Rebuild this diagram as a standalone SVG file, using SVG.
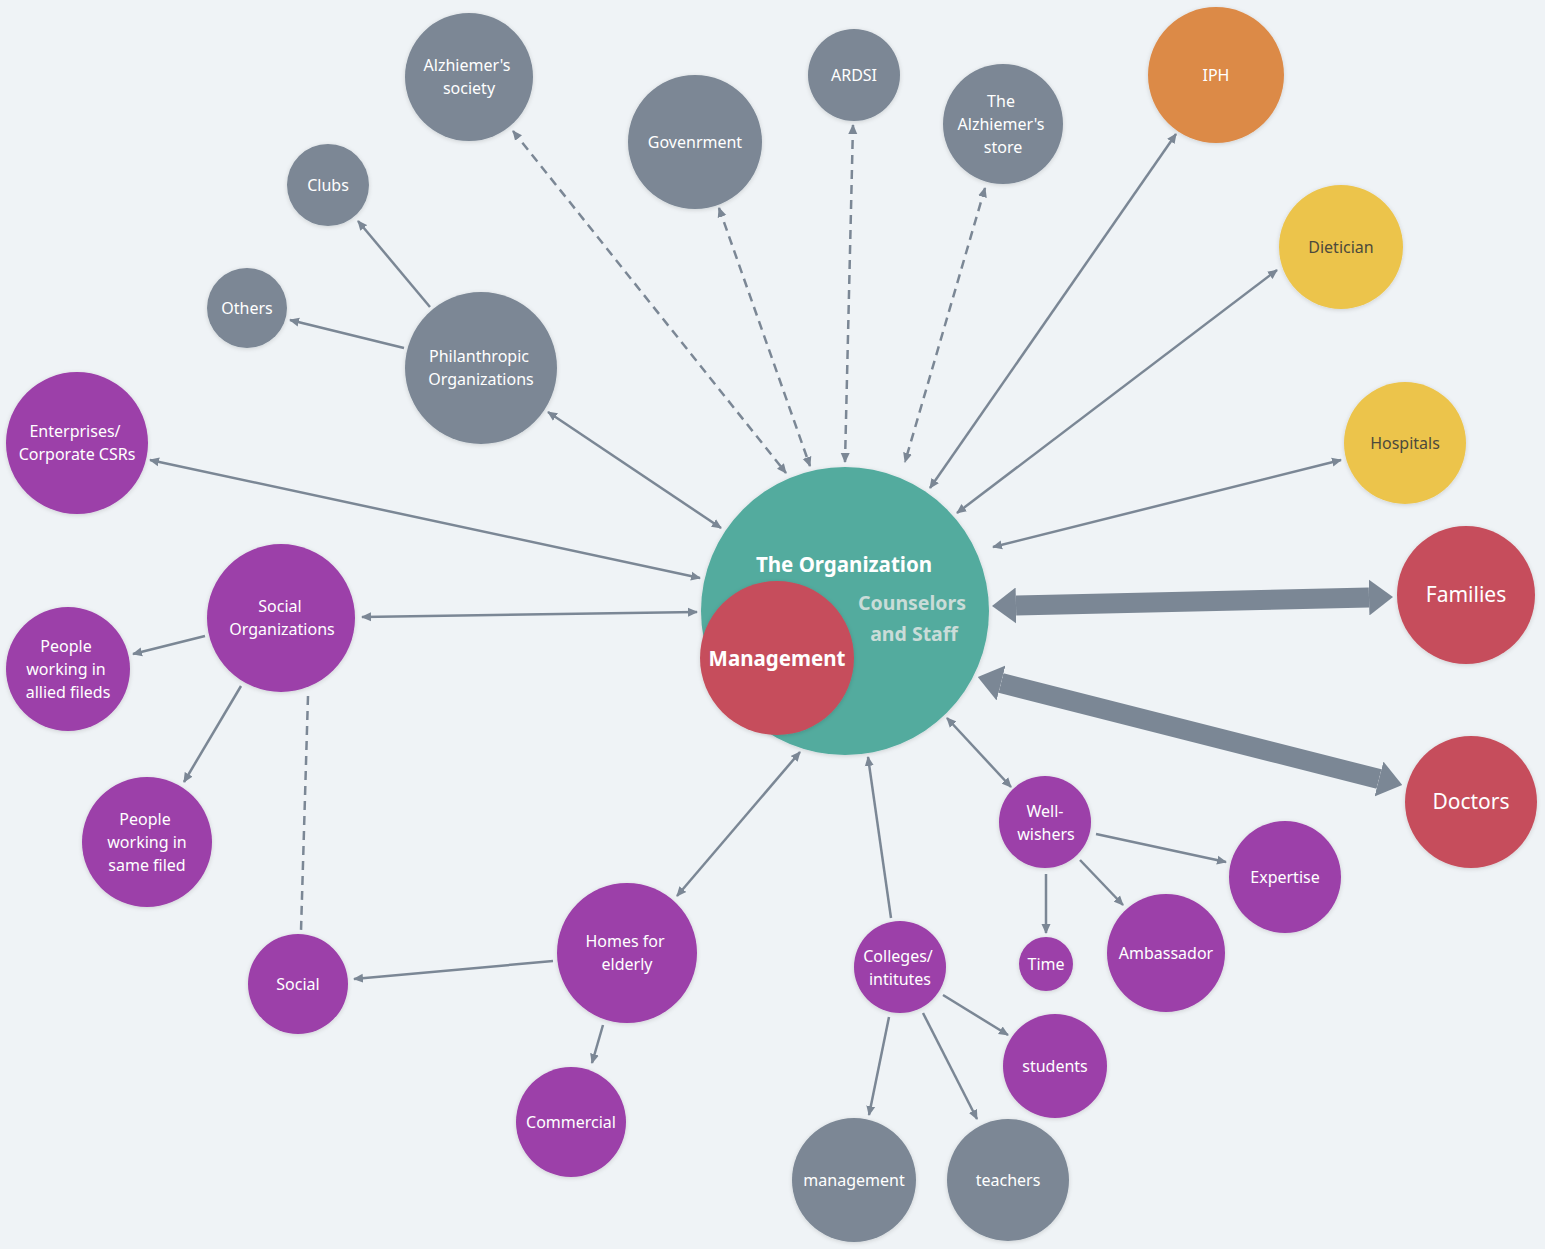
<svg xmlns="http://www.w3.org/2000/svg" width="1545" height="1249" viewBox="0 0 1545 1249">
<defs>
<style>
.bg{fill:#eff3f6}
.g{fill:#7b8795}
.p{fill:#9c3fa9}
.t{fill:#52ab9e}
.r{fill:#c64e5b}
.o{fill:#dc8a47}
.y{fill:#ecc44b}
text{font-family:"Noto Sans","DejaVu Sans",sans-serif;font-size:16px;fill:#ffffff;text-anchor:middle}
.dk{fill:#4c4a3c}
.big{font-size:21px}
.bold{font-weight:bold;font-size:20.5px}
.cs{fill:#c9dcd8;font-weight:bold;font-size:19.5px}
.ln{stroke:#7b8795;stroke-width:2.5;fill:none}
.ds{stroke-dasharray:9 6}
.thick{stroke:#7b8795;stroke-width:20;fill:none}
circle{filter:url(#sh)}
</style>
<filter id="sh" x="-20%" y="-20%" width="140%" height="140%">
<feDropShadow dx="0" dy="1" stdDeviation="2" flood-color="#000" flood-opacity="0.15"/>
</filter>
<marker id="a" markerUnits="userSpaceOnUse" markerWidth="10" markerHeight="10" viewBox="0 0 10 10" refX="9" refY="5" orient="auto-start-reverse">
<path d="M0,0.5 L10,5 L0,9.5 z" fill="#7b8795"/>
</marker>
<marker id="A" markerUnits="userSpaceOnUse" markerWidth="24" markerHeight="36" viewBox="0 0 24 36" refX="0" refY="18" orient="auto-start-reverse">
<path d="M0,0 L24,18 L0,36 z" fill="#7b8795"/>
</marker>
</defs>
<rect class="bg" x="0" y="0" width="1545" height="1249"/>

<g id="connectors">
<line class="ln ds" x1="513" y1="131" x2="786" y2="473" marker-start="url(#a)" marker-end="url(#a)"/>
<line class="ln ds" x1="719" y1="208" x2="810" y2="466" marker-start="url(#a)" marker-end="url(#a)"/>
<line class="ln ds" x1="853" y1="125" x2="845" y2="462" marker-start="url(#a)" marker-end="url(#a)"/>
<line class="ln ds" x1="985" y1="188" x2="905" y2="462" marker-start="url(#a)" marker-end="url(#a)"/>
<line class="ln" x1="1176" y1="134" x2="930" y2="488" marker-start="url(#a)" marker-end="url(#a)"/>
<line class="ln" x1="1277" y1="270" x2="957" y2="513" marker-start="url(#a)" marker-end="url(#a)"/>
<line class="ln" x1="1341" y1="460" x2="993" y2="547" marker-start="url(#a)" marker-end="url(#a)"/>
<line class="thick" x1="1016" y1="605.5" x2="1369" y2="597.5" marker-start="url(#A)" marker-end="url(#A)"/>
<line class="thick" x1="1001" y1="683" x2="1379" y2="779" marker-start="url(#A)" marker-end="url(#A)"/>
<line class="ln" x1="947" y1="718" x2="1011" y2="787" marker-start="url(#a)" marker-end="url(#a)"/>
<line class="ln" x1="891" y1="918" x2="868" y2="757" marker-end="url(#a)"/>
<line class="ln" x1="677" y1="896" x2="800" y2="752" marker-start="url(#a)" marker-end="url(#a)"/>
<line class="ln" x1="362" y1="617" x2="697" y2="612" marker-start="url(#a)" marker-end="url(#a)"/>
<line class="ln" x1="150" y1="460" x2="700" y2="578" marker-start="url(#a)" marker-end="url(#a)"/>
<line class="ln" x1="548" y1="412" x2="721" y2="528" marker-start="url(#a)" marker-end="url(#a)"/>
<line class="ln" x1="430" y1="307" x2="358" y2="221" marker-end="url(#a)"/>
<line class="ln" x1="404" y1="348" x2="290" y2="320" marker-end="url(#a)"/>
<line class="ln" x1="205" y1="636" x2="133" y2="654" marker-end="url(#a)"/>
<line class="ln" x1="241" y1="686" x2="184" y2="782" marker-end="url(#a)"/>
<line class="ln ds" x1="308" y1="696" x2="301" y2="931"/>
<line class="ln" x1="553" y1="961" x2="354" y2="979" marker-end="url(#a)"/>
<line class="ln" x1="603" y1="1025" x2="592" y2="1063" marker-end="url(#a)"/>
<line class="ln" x1="889" y1="1017" x2="869" y2="1115" marker-end="url(#a)"/>
<line class="ln" x1="923" y1="1013" x2="977" y2="1119" marker-end="url(#a)"/>
<line class="ln" x1="943" y1="995" x2="1008" y2="1035" marker-end="url(#a)"/>
<line class="ln" x1="1046" y1="874" x2="1046" y2="933" marker-end="url(#a)"/>
<line class="ln" x1="1080" y1="860" x2="1123" y2="905" marker-end="url(#a)"/>
<line class="ln" x1="1096" y1="834" x2="1226" y2="862" marker-end="url(#a)"/>
</g>

<g id="organization">
<circle class="t" cx="845" cy="611" r="144"/>
<text class="bold" x="844" y="572">The Organization</text>
<text class="cs" x="912" y="610">Counselors</text>
<text class="cs" x="914" y="641">and Staff</text>
</g>
<g id="management-core">
<circle class="r" cx="777" cy="658" r="77"/>
<text class="bold" x="777" y="666">Management</text>
</g>

<g id="alz-society"><circle class="g" cx="469" cy="77" r="64"/><text x="467" y="71">Alzhiemer's</text><text x="469" y="94">society</text></g>
<g id="government"><circle class="g" cx="695" cy="142" r="67"/><text x="695" y="148">Govenrment</text></g>
<g id="ardsi"><circle class="g" cx="854" cy="75" r="46"/><text x="854" y="81">ARDSI</text></g>
<g id="alz-store"><circle class="g" cx="1003" cy="124" r="60"/><text x="1001" y="107">The</text><text x="1001" y="130">Alzhiemer's</text><text x="1003" y="153">store</text></g>
<g id="iph"><circle class="o" cx="1216" cy="75" r="68"/><text x="1216" y="81">IPH</text></g>
<g id="dietician"><circle class="y" cx="1341" cy="247" r="62"/><text class="dk" x="1341" y="253">Dietician</text></g>
<g id="hospitals"><circle class="y" cx="1405" cy="443" r="61"/><text class="dk" x="1405" y="449">Hospitals</text></g>
<g id="families"><circle class="r" cx="1466" cy="595" r="69"/><text class="big" x="1466" y="602">Families</text></g>
<g id="doctors"><circle class="r" cx="1471" cy="802" r="66"/><text class="big" x="1471" y="809">Doctors</text></g>
<g id="expertise"><circle class="p" cx="1285" cy="877" r="56"/><text x="1285" y="883">Expertise</text></g>
<g id="ambassador"><circle class="p" cx="1166" cy="953" r="59"/><text x="1166" y="959">Ambassador</text></g>
<g id="well-wishers"><circle class="p" cx="1045" cy="822" r="46"/><text x="1045" y="817">Well-</text><text x="1046" y="840">wishers</text></g>
<g id="time"><circle class="p" cx="1046" cy="964" r="27"/><text x="1046" y="970">Time</text></g>
<g id="students"><circle class="p" cx="1055" cy="1066" r="52"/><text x="1055" y="1072">students</text></g>
<g id="teachers"><circle class="g" cx="1008" cy="1180" r="61"/><text x="1008" y="1186">teachers</text></g>
<g id="college-management"><circle class="g" cx="854" cy="1180" r="62"/><text x="854" y="1186">management</text></g>
<g id="colleges"><circle class="p" cx="900" cy="967" r="46"/><text x="898" y="962">Colleges/</text><text x="900" y="985">intitutes</text></g>
<g id="homes"><circle class="p" cx="627" cy="953" r="70"/><text x="625" y="947">Homes for</text><text x="627" y="970">elderly</text></g>
<g id="commercial"><circle class="p" cx="571" cy="1122" r="55"/><text x="571" y="1128">Commercial</text></g>
<g id="social"><circle class="p" cx="298" cy="984" r="50"/><text x="298" y="990">Social</text></g>
<g id="same-field"><circle class="p" cx="147" cy="842" r="65"/><text x="145" y="825">People</text><text x="147" y="848">working in</text><text x="147" y="871">same filed</text></g>
<g id="allied-fields"><circle class="p" cx="68" cy="669" r="62"/><text x="66" y="652">People</text><text x="66" y="675">working in</text><text x="68" y="698">allied fileds</text></g>
<g id="social-orgs"><circle class="p" cx="281" cy="618" r="74"/><text x="280" y="612">Social</text><text x="282" y="635">Organizations</text></g>
<g id="enterprises"><circle class="p" cx="77" cy="443" r="71"/><text x="75" y="437">Enterprises/</text><text x="77" y="460">Corporate CSRs</text></g>
<g id="philanthropic"><circle class="g" cx="481" cy="368" r="76"/><text x="479" y="362">Philanthropic</text><text x="481" y="385">Organizations</text></g>
<g id="others"><circle class="g" cx="247" cy="308" r="40"/><text x="247" y="314">Others</text></g>
<g id="clubs"><circle class="g" cx="328" cy="185" r="41"/><text x="328" y="191">Clubs</text></g>
</svg>
